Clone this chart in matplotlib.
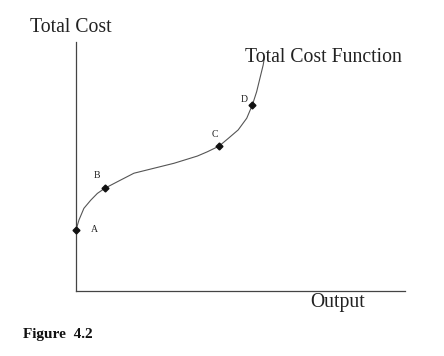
import matplotlib
matplotlib.use("Agg")
import matplotlib.pyplot as plt

# total cost curve (output, cost)
curve_x = [0.0, 0.09, 0.24, 0.45, 0.65, 0.87, 1.26, 1.76, 2.37, 2.98, 3.69, 3.99,
           4.35, 4.63, 4.93, 5.19, 5.36, 5.49, 5.59, 5.69, 5.73]
curve_y = [2.45, 2.85, 3.32, 3.65, 3.92, 4.12, 4.39, 4.73, 4.93, 5.13, 5.42, 5.59,
           5.82, 6.13, 6.47, 6.94, 7.47, 8.00, 8.54, 9.08, 9.40]

# labelled points A-D
pt_names = ["A", "B", "C", "D"]
pt_x = [0.0, 0.87, 4.35, 5.36]
pt_y = [2.45, 4.12, 5.82, 7.47]
# label offsets in points
pt_off = [(13, 0), (-5.3, 9.6), (-3, 8), (-5.8, 3.6)]

plt.rcParams['font.family'] = ['Liberation Serif', 'DejaVu Serif']

W, H = 444, 356
fig = plt.figure(figsize=(W / 100, H / 100), dpi=100, facecolor='white')
ax = fig.add_axes([76 / W, (H - 291) / H, (405 - 76) / W, (291 - 42) / H])
ax.set_xlim(0, 10)
ax.set_ylim(0, 10)
for s in ['top', 'right']:
    ax.spines[s].set_visible(False)
for s in ['left', 'bottom']:
    ax.spines[s].set_color('#444444')
    ax.spines[s].set_linewidth(0.9)
ax.set_xticks([])
ax.set_yticks([])
ax.patch.set_alpha(0)

ax.plot(curve_x, curve_y, color='#555555', lw=0.8, clip_on=False)
ax.plot(pt_x, pt_y, 'D', color='#111111', ms=3.5, clip_on=False, zorder=3)
for n, x, y, off in zip(pt_names, pt_x, pt_y, pt_off):
    ax.annotate(n, (x, y), xytext=off, textcoords='offset points',
                ha='center', va='center', fontsize=7, color='#222222')

# texts
fig.text(30 / W, 1 - 32 / H, "Total Cost", fontsize=14.2, color='#222222', va='baseline')
fig.text(245 / W, 1 - 62 / H, "Total Cost Function", fontsize=14.2, color='#222222', va='baseline')
fig.text(310 / W, 1 - 307 / H, "Output", fontsize=14.2, color='#222222', va='baseline')
fig.text(23 / W, 1 - 338 / H, "Figure  4.2", fontsize=11, fontweight='bold', color='#111111', va='baseline')

fig.savefig("out.png", dpi=100, facecolor='white')
